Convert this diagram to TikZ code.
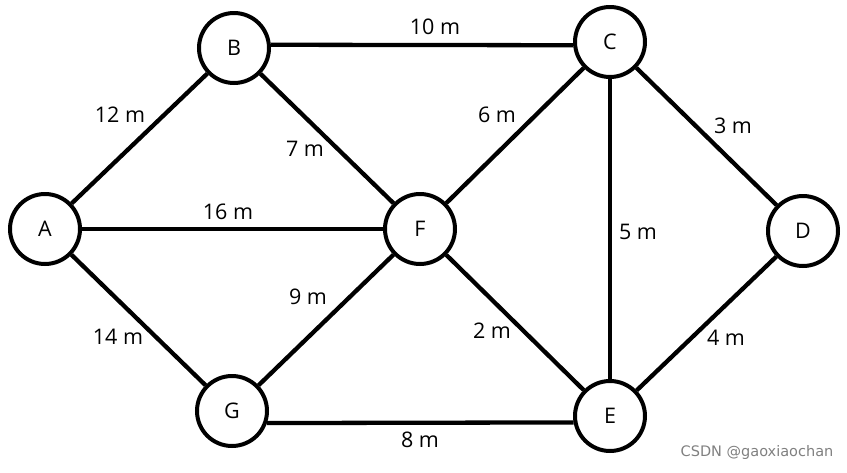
\documentclass[tikz,border=0pt]{standalone}
\usepackage{fontspec}
\setmainfont{Open Sans}
\newfontfamily\markfont{DejaVu Sans}
\usetikzlibrary{positioning}

\begin{document}
\begin{tikzpicture}[
  x=1pt, y=-1pt,
  every node/.style={font=\fontsize{21.5}{24}\selectfont},
  town/.style={circle, draw=black, line width=4pt, fill=white,
               minimum size=70pt, inner sep=0pt},
  road/.style={line width=4.3pt},
  dist/.style={inner sep=1pt}
]
\useasboundingbox (0,0) rectangle (847,472);

\node[town] (A) at (45,229)  {A};
\node[town] (B) at (234,48)  {B};
\node[town] (C) at (610,42)  {C};
\node[town] (D) at (803,231) {D};
\node[town] (F) at (420,229) {F};
\node[town] (G) at (232,411) {G};
\node[town] (E) at (610,416) {E};

\draw[road] (A) -- (B);
\draw[road] (B.5) -- (C.185);
\draw[road] (B) -- (F);
\draw[road] (F) -- (C);
\draw[road] (C) -- (D);
\draw[road] (A) -- (F);
\draw[road] (C) -- (E);
\draw[road] (G) -- (F);
\draw[road] (A) -- (G);
\draw[road] (F) -- (E);
\draw[road] (E) -- (D);
\draw[road] (G.-19) -- (E.190);

% distances
\node[dist] (dAB) at (120,115) {12 m};
\node[dist] (dBC) at (435,27)  {10 m};
\node[dist] (dBF) at (305,149) {7 m};
\node[dist] (dFC) at (497,115) {6 m};
\node[dist] (dCD) at (733,126) {3 m};
\node[dist] (dAF) at (228,212) {16 m};
\node[dist] (dCE) at (638,232) {5 m};
\node[dist] (dGF) at (308,297) {9 m};
\node[dist] (dAG) at (118,337) {14 m};
\node[dist] (dFE) at (492,331) {2 m};
\node[dist] (dED) at (726,338) {4 m};
\node[dist] (dGE) at (420,440) {8 m};

\node[font=\markfont\fontsize{14.5}{16}\selectfont, text=black!50] (wm) at (757,452) {CSDN @gaoxiaochan};
\end{tikzpicture}
\end{document}
